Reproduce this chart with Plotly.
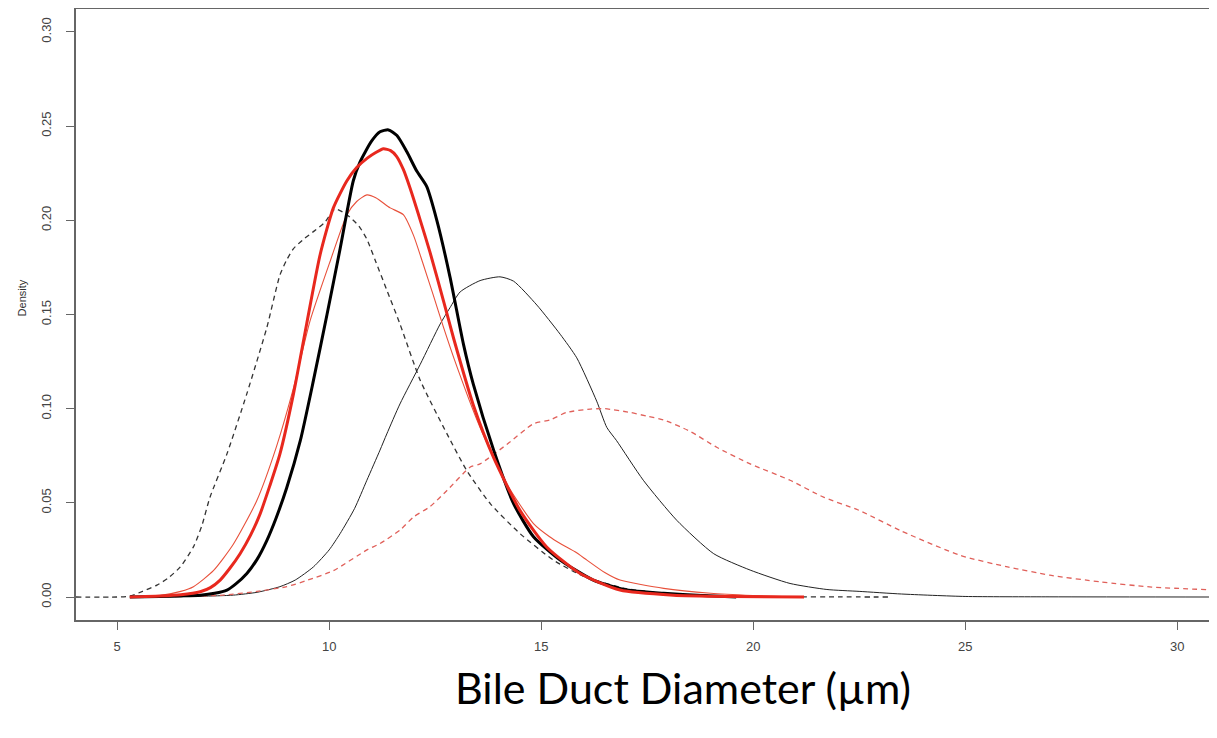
import plotly.graph_objects as go

# Black dashed density
bd_x = [4.03, 5.0, 5.3, 5.6, 5.94, 6.2, 6.49, 6.8, 7.0, 7.19, 7.59, 8.06, 8.53, 8.84, 9.0, 9.16, 9.4, 9.63, 9.9,
        10.14, 10.42, 10.7, 10.89, 11.1, 11.36, 11.67, 12.15, 12.78, 13.25, 13.8, 14.5, 15.29, 16.0, 17.0, 18.0,
        19.0, 20.0, 21.0, 22.0, 23.2]
bd_y = [0, 0, 0.0005, 0.003, 0.0063, 0.010, 0.016, 0.0266, 0.038, 0.053, 0.076, 0.108, 0.143, 0.171, 0.179, 0.185,
        0.190, 0.194, 0.199, 0.206, 0.203, 0.197, 0.190, 0.178, 0.163, 0.145, 0.115, 0.0866, 0.067, 0.0496, 0.0337,
        0.0196, 0.011, 0.0045, 0.0018, 0.0008, 0.0003, 0.0001, 0.00005, 0]

# Black thick density
bk_x = [5.3, 6.0, 6.5, 6.96, 7.3, 7.59, 7.8, 8.06, 8.3, 8.53, 8.75, 9.0, 9.32, 9.63, 9.95, 10.26, 10.57, 10.73,
        11.0, 11.2, 11.4, 11.6, 11.83, 12.07, 12.3, 12.54, 12.85, 13.17, 13.4, 13.88, 14.35, 14.82, 15.45, 16.23,
        17.02, 17.89, 18.8, 19.6]
bk_y = [0, 0.0003, 0.0006, 0.001, 0.002, 0.0037, 0.007, 0.0125, 0.020, 0.030, 0.042, 0.058, 0.083, 0.115, 0.150,
        0.185, 0.221, 0.231, 0.242, 0.247, 0.248, 0.245, 0.2365, 0.226, 0.218, 0.200, 0.170, 0.134, 0.113, 0.078,
        0.0496, 0.032, 0.0196, 0.009, 0.0037, 0.002, 0.0008, 0]

# Red thick density
rk_x = [5.3, 6.0, 6.5, 6.96, 7.2, 7.43, 7.65, 7.9, 8.15, 8.37, 8.6, 8.84, 9.16, 9.47, 9.79, 10.1, 10.42, 10.65,
        10.9, 11.1, 11.28, 11.45, 11.59, 11.75, 11.91, 12.15, 12.38, 12.7, 12.94, 13.4, 13.88, 14.5, 15.13, 15.92,
        16.86, 18.12, 19.5, 21.2]
rk_y = [0, 0.0005, 0.0012, 0.0028, 0.005, 0.009, 0.015, 0.023, 0.033, 0.044, 0.059, 0.076, 0.108, 0.145, 0.182,
        0.2066, 0.221, 0.228, 0.233, 0.236, 0.238, 0.237, 0.234, 0.227, 0.217, 0.200, 0.183, 0.157, 0.137, 0.102,
        0.074, 0.046, 0.0266, 0.0125, 0.0037, 0.001, 0.0003, 0]

# Red thin density
rt_x = [5.3, 6.0, 6.5, 6.8, 7.27, 7.74, 8.29, 8.76, 9.16, 9.55, 10.02, 10.42, 10.65, 10.89, 11.1, 11.44, 11.75,
        11.99, 12.2, 12.46, 12.7, 12.94, 13.56, 14.19, 14.82, 15.2, 15.45, 15.8, 16.08, 16.5, 16.86, 17.89, 19.0,
        20.0, 21.0]
rt_y = [0, 0.0008, 0.003, 0.0055, 0.014, 0.028, 0.051, 0.080, 0.111, 0.1466, 0.178, 0.203, 0.210, 0.2135, 0.212,
        0.2066, 0.203, 0.192, 0.178, 0.160, 0.143, 0.127, 0.090, 0.060, 0.039, 0.032, 0.0284, 0.024, 0.0196, 0.013,
        0.009, 0.0046, 0.002, 0.0008, 0]

# Black thin density
kt_x = [5.3, 6.5, 7.0, 7.74, 8.3, 8.84, 9.2, 9.63, 10.0, 10.26, 10.6, 10.89, 11.2, 11.36, 11.67, 12.15, 12.62,
        12.85, 13.09, 13.56, 14.03, 14.35, 14.9, 15.45, 15.84, 16.31, 16.55, 16.78, 17.41, 18.2, 19.07, 19.93,
        20.87, 21.74, 22.5, 23.5, 25.0, 27.0, 31.0]
kt_y = [0, 0.0002, 0.0004, 0.001, 0.0025, 0.0055, 0.009, 0.016, 0.025, 0.0337, 0.047, 0.062, 0.078, 0.0866,
        0.1025, 0.1236, 0.145, 0.1536, 0.162, 0.168, 0.170, 0.1677, 0.155, 0.1395, 0.127, 0.104, 0.090, 0.083,
        0.062, 0.0407, 0.023, 0.0143, 0.0072, 0.004, 0.003, 0.0016, 0.0003, 0.0001, 0]

# Red dashed density
rd_x = [5.3, 6.5, 7.5, 8.3, 9.0, 9.5, 10.1, 10.89, 11.2, 11.67, 11.99, 12.38, 12.78, 13.33, 13.56, 14.19, 14.82,
        15.21, 15.6, 16.16, 16.5, 17.1, 17.5, 17.89, 18.51, 19.14, 19.93, 20.87, 21.66, 22.5, 23.5, 24.9, 26.0,
        27.0, 28.2, 29.4, 30.94]
rd_y = [0, 0.0003, 0.001, 0.003, 0.0055, 0.009, 0.014, 0.025, 0.0284, 0.0355, 0.0425, 0.048, 0.0566, 0.069,
        0.0707, 0.081, 0.092, 0.094, 0.098, 0.0998, 0.1, 0.098, 0.096, 0.094, 0.088, 0.0795, 0.0707, 0.062, 0.053,
        0.046, 0.035, 0.022, 0.016, 0.0116, 0.008, 0.0053, 0.0037]

x_ticks = [5, 10, 15, 20, 25, 30]
y_ticks = [0.00, 0.05, 0.10, 0.15, 0.20, 0.25, 0.30]

fig = go.Figure()
traces = [
    (bd_x, bd_y, "#333333", 1.3, "5px,4px"),
    (kt_x, kt_y, "#222222", 1.0, "solid"),
    (rd_x, rd_y, "#e0605a", 1.3, "5px,4px"),
    (rt_x, rt_y, "#e8503a", 1.1, "solid"),
    (bk_x, bk_y, "#000000", 3.0, "solid"),
    (rk_x, rk_y, "#e8281e", 3.0, "solid"),
]
for xs, ys, col, w, dash in traces:
    fig.add_trace(go.Scatter(x=xs, y=ys, mode="lines",
                             line=dict(color=col, width=w, dash=dash, shape="spline", smoothing=0.6),
                             hoverinfo="skip", showlegend=False))

tick_font = dict(family="Liberation Sans, Arial, sans-serif", size=13, color="#444444")
fig.update_layout(
    width=1209, height=730,
    margin=dict(l=68, r=0, t=1, b=118),
    paper_bgcolor="white", plot_bgcolor="white",
    xaxis=dict(range=[4.03, 30.94], tickvals=x_ticks, ticktext=[str(v) for v in x_ticks],
               showgrid=False, zeroline=False, showline=True, linecolor="#666666", linewidth=1.5, mirror=True,
               ticks="outside", ticklen=8, tickwidth=1.2, tickcolor="#666666", tickfont=tick_font,
               ticklabelstandoff=6),
    yaxis=dict(range=[-0.0122, 0.3122], tickvals=y_ticks, ticktext=[f"{v:.2f}" for v in y_ticks],
               showgrid=False, zeroline=False, showline=True, linecolor="#666666", linewidth=1.5,
               ticks="outside", ticklen=8, tickwidth=1.2, tickcolor="#666666", tickfont=tick_font, tickangle=-90,
               ticklabelstandoff=10),
    annotations=[
        dict(text="Bile Duct Diameter (µm)", xref="paper", yref="paper", x=0.532, y=-0.111,
             xanchor="center", yanchor="middle", showarrow=False,
             font=dict(family="Lato, Open Sans, sans-serif", size=43, color="#000000")),
        dict(text="Density", xref="paper", yref="paper", x=-0.047, y=0.527, textangle=-90,
             xanchor="center", yanchor="middle", showarrow=False,
             font=dict(family="Liberation Sans, Arial, sans-serif", size=11, color="#333333")),
    ],
)
fig.write_html("out.html")
